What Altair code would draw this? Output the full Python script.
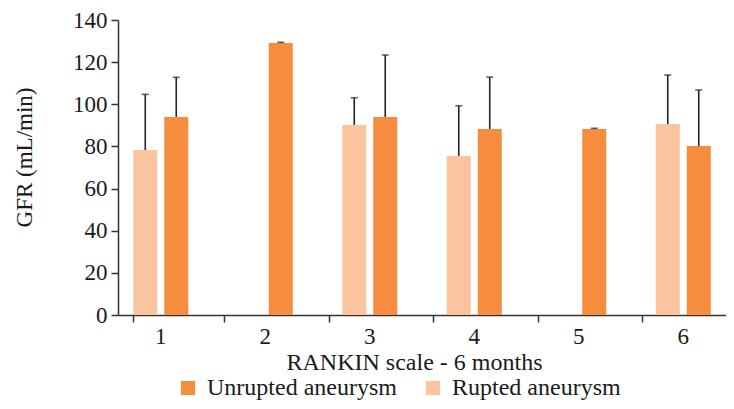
import altair as alt
import pandas as pd

# ---- data ----
categories = ["1", "2", "3", "4", "5", "6"]
rupted_mean = [78.3, None, 90.2, 75.5, None, 90.6]
rupted_sd = [26.4, None, 12.9, 23.8, None, 23.3]
unrupted_mean = [94.0, 129.1, 94.0, 88.3, 88.3, 80.2]
unrupted_sd = [18.8, 0.3, 29.4, 24.6, 0.3, 26.6]

series_names = ["Unrupted aneurysm", "Rupted aneurysm"]
series_colors = ["#F58C3E", "#F9C49E"]

rows = []
for c, m, s in zip(categories, rupted_mean, rupted_sd):
    if m is not None:
        rows.append({"Rankin": c, "Group": "Rupted aneurysm", "Mean": m, "Upper": m + s})
for c, m, s in zip(categories, unrupted_mean, unrupted_sd):
    if m is not None:
        rows.append({"Rankin": c, "Group": "Unrupted aneurysm", "Mean": m, "Upper": m + s})
df = pd.DataFrame(rows)

FONT = "Liberation Serif"

x_enc = alt.X(
    "Rankin:O",
    sort=categories,
    scale=alt.Scale(paddingInner=0.4737, paddingOuter=0.146),
    axis=alt.Axis(
        title="RANKIN scale - 6 months",
        labelAngle=0,
        tickSize=7,
        labelPadding=3,
        bandPosition=1.66,
        tickExtra=True,
        titleFontSize=24,
        titleX=296,
        titleY=54,
        titleBaseline="alphabetic",
        titleAnchor="middle",
    ),
)
xoff = alt.XOffset(
    "Group:N",
    sort=["Rupted aneurysm", "Unrupted aneurysm"],
    scale=alt.Scale(domain=["Rupted aneurysm", "Unrupted aneurysm"], paddingInner=0.2258, paddingOuter=0),
)

bars = alt.Chart(df).mark_bar().encode(
    x=x_enc,
    xOffset=xoff,
    y=alt.Y(
        "Mean:Q",
        scale=alt.Scale(domain=[0, 140], nice=False),
        axis=alt.Axis(
            title="GFR (mL/min)",
            values=[0, 20, 40, 60, 80, 100, 120, 140],
            tickSize=7,
            labelPadding=4,
            grid=False,
            titleFontSize=23,
            titleX=-94,
            titleY=137,
            titleAngle=-90,
            titleAnchor="middle",
            titleAlign="center",
            titleBaseline="middle",
        ),
    ),
    color=alt.Color(
        "Group:N",
        scale=alt.Scale(domain=series_names, range=series_colors),
        legend=alt.Legend(
            title=None,
            orient="none",
            direction="horizontal",
            legendX=58,
            legendY=356,
            symbolType="square",
            symbolSize=200,
            symbolStrokeWidth=0,
            labelFontSize=24,
            labelFont=FONT,
            labelColor="#1a1a1a",
            labelLimit=400,
            labelOffset=7,
            columnPadding=24,
            padding=0,
        ),
    ),
)

errs = alt.Chart(df).mark_rule(color="#222222", strokeWidth=1.6).encode(
    x=alt.X("Rankin:O", sort=categories),
    xOffset=xoff,
    y="Mean:Q",
    y2="Upper:Q",
)

caps = alt.Chart(df).mark_tick(color="#222222", thickness=1.6, size=7).encode(
    x=alt.X("Rankin:O", sort=categories),
    xOffset=xoff,
    y="Upper:Q",
)

chart = (
    alt.layer(bars, errs, caps)
    .properties(
        width=608,
        height=295,
        autosize=alt.AutoSizeParams(type="none"),
        padding={"left": 110, "top": 12, "right": 0, "bottom": 86},
    )
    .configure_view(stroke=None)
    .configure_axis(
        labelFont=FONT,
        titleFont=FONT,
        labelFontSize=23,
        titleFontWeight="normal",
        labelColor="#1a1a1a",
        titleColor="#1a1a1a",
        domainColor="#333333",
        tickColor="#333333",
        domainWidth=1.5,
        tickWidth=1.5,
    )
)

chart.save("out.html", embed_options={"renderer": "svg", "actions": False})
